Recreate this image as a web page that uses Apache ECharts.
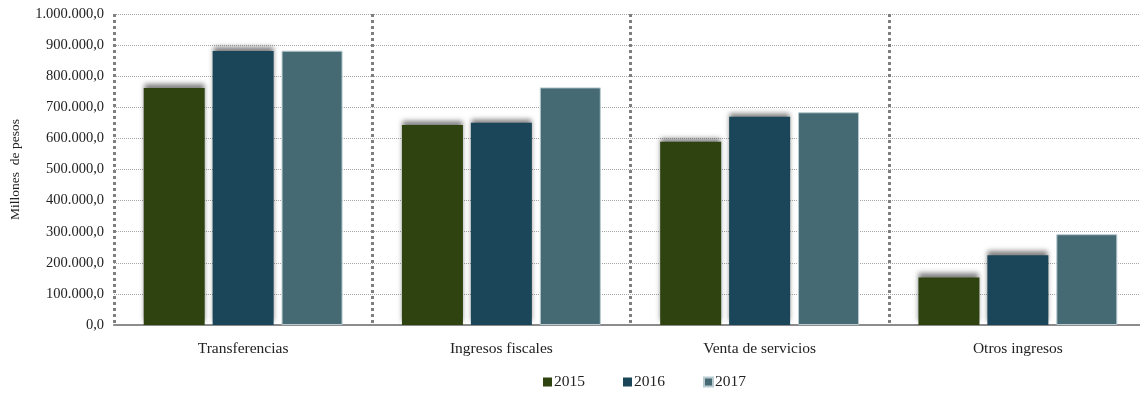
<!DOCTYPE html>
<html><head><meta charset="utf-8">
<script src="https://cdn.jsdelivr.net/npm/echarts@6/dist/echarts.min.js"></script>
<style>html,body{margin:0;padding:0;background:#fff;overflow:hidden}#c{width:1147px;height:393px}</style>
</head><body><div id="c"></div>
<script>
const categories = ['Transferencias', 'Ingresos fiscales', 'Venta de servicios', 'Otros ingresos'];
const years = ['2015', '2016', '2017'];
const v2015 = [762000, 643000, 589000, 153000];
const v2016 = [881000, 650000, 670000, 224000];
const v2017 = [882000, 764000, 684000, 292000];
const colors = ['#2e4310', '#1b4659', '#466a73'];
const values = [v2015, v2016, v2017];

function fmt(v) {
  const s = Math.round(v).toString().replace(/\B(?=(\d{3})+(?!\d))/g, '.');
  return s + ',0';
}
const font = '"Liberation Serif", "Times New Roman", serif';
const chart = echarts.init(document.getElementById('c'));
chart.setOption({
  animation: false,
  textStyle: { fontFamily: font },
  grid: { left: 113, right: 0, top: 14, height: 311 },
  legend: {
    data: years, top: 369, left: 538, itemWidth: 9, itemHeight: 9, itemGap: 38,
    icon: 'rect', textStyle: { fontFamily: font, fontSize: 15.5, color: '#222', padding: [0, 0, 0, -3] }
  },
  xAxis: {
    type: 'category', data: categories,
    axisLine: { show: true, lineStyle: { color: '#8c8c8c', width: 2 } },
    axisTick: { show: false },
    axisLabel: { fontFamily: font, fontSize: 15.5, color: '#222', margin: 16 },
    splitLine: { show: true, lineStyle: { color: '#7f7f7f', width: 3, type: [3, 3] } }
  },
  yAxis: {
    type: 'value', min: 0, max: 1000000, interval: 100000,
    name: 'Millones  de pesos', nameLocation: 'middle', nameGap: 92, nameRotate: 90,
    nameTextStyle: { fontFamily: font, fontSize: 13.5, color: '#222' },
    axisLine: { show: false }, axisTick: { show: false },
    axisLabel: { fontFamily: font, fontSize: 14.5, color: '#222', margin: 10, formatter: fmt },
    splitLine: { show: true, lineStyle: { color: '#a6a6a6', width: 1, type: [1, 1] } }
  },
  series: years.map((y, i) => ({
    name: y, type: 'bar', data: values[i], barWidth: 61, barGap: '13%',
    itemStyle: i < 2 ? {
      color: colors[i], shadowColor: 'rgba(0,0,0,0.5)', shadowBlur: 5, shadowOffsetY: -4
    } : { color: colors[i], borderColor: '#b9cbd0', borderWidth: 1 }
  }))
});
</script></body></html>
